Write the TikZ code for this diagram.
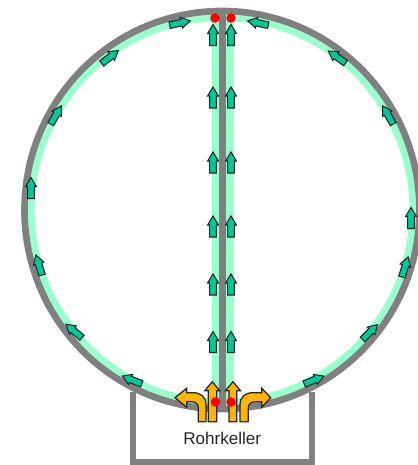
\documentclass[tikz,border=0pt]{standalone}
\usepackage{fontspec}
\setmainfont{Liberation Sans}
\definecolor{ringgray}{RGB}{128,128,128}
\definecolor{mint}{RGB}{153,255,204}
\definecolor{teal}{RGB}{0,200,150}
\definecolor{amber}{RGB}{255,180,0}
\tikzset{
  wall/.style={draw=ringgray,line width=5pt},
  flowband/.style={draw=mint,line width=5.4pt},
  flowarrow/.style={fill=teal,draw=black!85,line width=0.8pt,line join=miter},
  feedarrow/.style={fill=amber,draw=black!85,line width=0.95pt,line join=miter},
  reddot/.style={fill=red,draw=none}
}
\newcommand{\flowarr}[3]{%
  \draw[flowarrow,shift={(#1,#2)},rotate=#3]
    (-3.3,10.5) -- (3.3,10.5) -- (3.3,-1.5) -- (5.4,-1.5) -- (0,-10.5) -- (-5.4,-1.5) -- (-3.3,-1.5) -- cycle;}
\begin{document}
\begin{tikzpicture}[x=0.75pt,y=-0.75pt]
\useasboundingbox (0,0) rectangle (418,465);
\clip (0,0) rectangle (418,465);
% cellar
\draw[wall,line join=miter] (133,392) -- (133,462) -- (312,462) -- (312,392);
% mint bands
\draw[flowband] (222,210) ellipse [x radius=191,y radius=192.5];
\draw[mint,line width=16.3pt] (223,14) -- (223,406);
% walls
\draw[wall] (222,210) ellipse [x radius=197.5,y radius=199];
\draw[wall] (222.5,11) -- (222.5,409);
% orange arrows
\draw[feedarrow] (198.3,421.7) -- (206,421.7) -- (206,405) .. controls (206,397) and (201,392.7) .. (193,392.7) -- (186.7,392.7) -- (186.7,388.3) -- (175,397.7) -- (186.7,407.3) -- (186.7,401.7) -- (191,401.7) .. controls (196,401.7) and (198.3,404) .. (198.3,408) -- cycle;
\draw[feedarrow] (208.3,421.7) -- (216.7,421.7) -- (216.7,390.7) -- (219.8,390.7) -- (212.3,381.7) -- (204.8,390.7) -- (208.3,390.7) -- cycle;
\draw[feedarrow] (229,421.7) -- (236.7,421.7) -- (236.7,390.7) -- (240.5,390.7) -- (233,381.7) -- (225.5,390.7) -- (229,390.7) -- cycle;
\draw[feedarrow] (248.3,421.7) -- (240,421.7) -- (240,405) .. controls (240,397) and (245,392.7) .. (253,392.7) -- (261.7,392.7) -- (261.7,388.3) -- (270.7,397.7) -- (261.7,407.3) -- (261.7,401.7) -- (256,401.7) .. controls (251,401.7) and (248.3,404) .. (248.3,408) -- cycle;
% red dots
\fill[reddot] (215.5,402) circle (4.8);
\fill[reddot] (231,402) circle (4.8);
\fill[reddot] (215,18) circle (4.8);
\fill[reddot] (231,18) circle (4.8);
% vertical flow arrows
\foreach \yy in {35,97.5,162.5,226.5,284.5,342}{\flowarr{213}{\yy}{0}\flowarr{231}{\yy}{0}}
% ring flow arrows
\flowarr{180}{23}{-78}
\flowarr{110}{57}{-52}
\flowarr{56}{115}{-30}
\flowarr{31}{188}{0}
\flowarr{39}{265}{17}
\flowarr{74}{331}{50}
\flowarr{132}{380}{68}
\flowarr{258}{23}{78}
\flowarr{337}{57}{55}
\flowarr{388}{115}{30}
\flowarr{411}{218}{0}
\flowarr{405}{267}{-17}
\flowarr{370}{332}{-45}
\flowarr{314}{380}{-68}
\node[font=\fontsize{12.8}{15}\selectfont,text=black!85] (label) at (222.3,438) {Rohrkeller};
\end{tikzpicture}
\end{document}
